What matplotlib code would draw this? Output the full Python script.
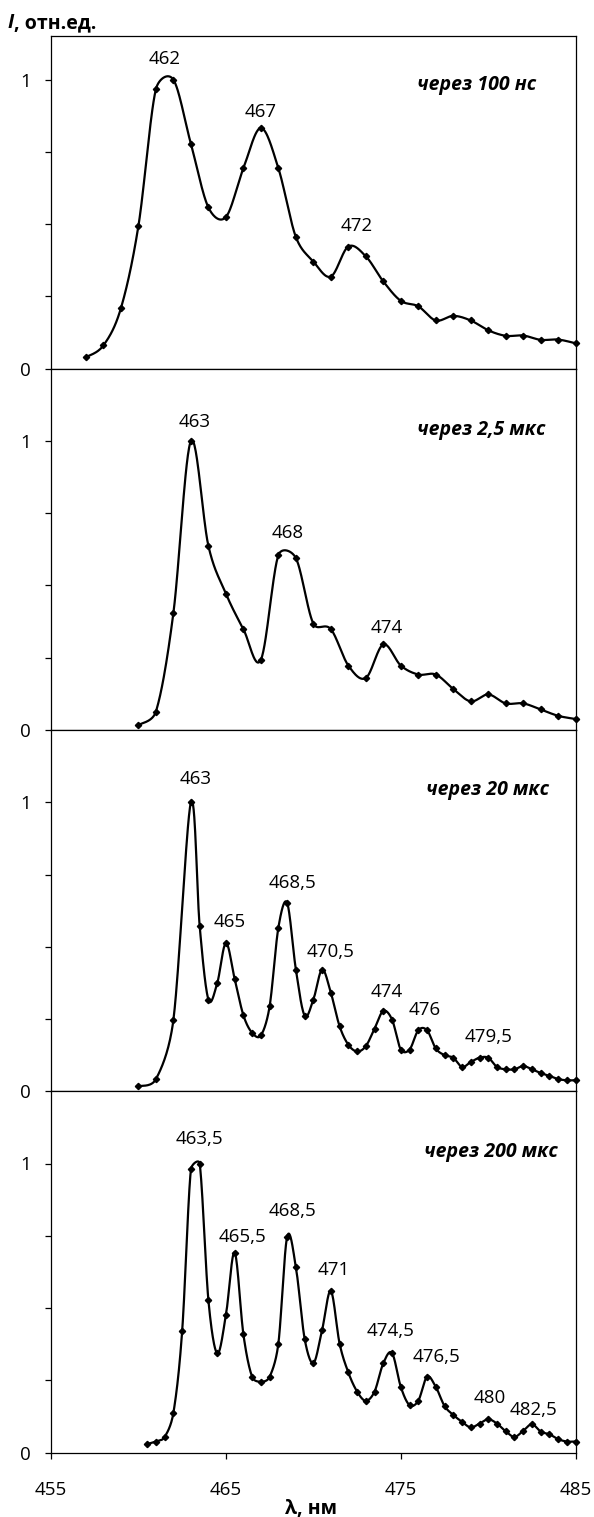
import numpy as np
import matplotlib
matplotlib.use("Agg")
import matplotlib.pyplot as plt

# ---------------- data ----------------
x1 = [457, 458, 459, 460, 461, 462, 463, 464, 465, 466, 467, 468, 469, 470, 471,
      472, 473, 474, 475, 476, 477, 478, 479, 480, 481, 482, 483, 484, 485]
y1 = [0.040, 0.081, 0.210, 0.495, 0.968, 1.000, 0.778, 0.558, 0.525, 0.694, 0.833,
      0.694, 0.456, 0.371, 0.319, 0.423, 0.389, 0.302, 0.235, 0.216, 0.167, 0.183,
      0.167, 0.133, 0.114, 0.115, 0.100, 0.101, 0.088]

x2 = [460, 461, 462, 463, 464, 465, 466, 467, 468, 469, 470, 471, 472, 473, 474,
      475, 476, 477, 478, 479, 480, 481, 482, 483, 484, 485]
y2 = [0.017, 0.064, 0.406, 1.000, 0.637, 0.472, 0.349, 0.243, 0.605, 0.595, 0.368,
      0.349, 0.223, 0.180, 0.296, 0.223, 0.192, 0.192, 0.142, 0.099, 0.123, 0.092,
      0.092, 0.071, 0.049, 0.038]

x3 = [460.0, 461.0, 462.0, 463.0, 463.5, 464.0, 464.5, 465.0, 465.5, 466.0, 466.5,
      467.0, 467.5, 468.0, 468.5, 469.0, 469.5, 470.0, 470.5, 471.0, 471.5, 472.0,
      472.5, 473.0, 473.5, 474.0, 474.5, 475.0, 475.5, 476.0, 476.5, 477.0, 477.5,
      478.0, 478.5, 479.0, 479.5, 480.0, 480.5, 481.0, 481.5, 482.0, 482.5, 483.0,
      483.5, 484.0, 484.5, 485.0]
y3 = [0.017, 0.042, 0.248, 1.000, 0.572, 0.317, 0.373, 0.513, 0.389, 0.263, 0.202,
      0.193, 0.294, 0.566, 0.652, 0.421, 0.262, 0.317, 0.421, 0.341, 0.225, 0.161,
      0.138, 0.156, 0.217, 0.278, 0.248, 0.144, 0.144, 0.211, 0.211, 0.148, 0.125,
      0.116, 0.084, 0.101, 0.116, 0.116, 0.084, 0.076, 0.076, 0.087, 0.076, 0.063,
      0.053, 0.042, 0.038, 0.038]

x4 = [460.5, 461.0, 461.5, 462.0, 462.5, 463.0, 463.5, 464.0, 464.5, 465.0, 465.5,
      466.0, 466.5, 467.0, 467.5, 468.0, 468.5, 469.0, 469.5, 470.0, 470.5, 471.0,
      471.5, 472.0, 472.5, 473.0, 473.5, 474.0, 474.5, 475.0, 475.5, 476.0, 476.5,
      477.0, 477.5, 478.0, 478.5, 479.0, 479.5, 480.0, 480.5, 481.0, 481.5, 482.0,
      482.5, 483.0, 483.5, 484.0, 484.5, 485.0]
y4 = [0.029, 0.038, 0.054, 0.138, 0.421, 0.980, 1.000, 0.527, 0.343, 0.475, 0.692,
      0.409, 0.262, 0.245, 0.262, 0.377, 0.746, 0.642, 0.394, 0.309, 0.424, 0.559,
      0.377, 0.277, 0.211, 0.179, 0.211, 0.309, 0.344, 0.227, 0.164, 0.179, 0.262,
      0.227, 0.161, 0.130, 0.106, 0.087, 0.100, 0.115, 0.100, 0.073, 0.054, 0.075,
      0.098, 0.072, 0.063, 0.046, 0.038, 0.038]

titles = ["через 100 нс", "через 2,5 мкс", "через 20 мкс", "через 200 мкс"]

labels1 = ["462", "467", "472"]
labels2 = ["463", "468", "474"]
labels3 = ["463", "465", "468,5", "470,5", "474", "476", "479,5"]
labels4 = ["463,5", "465,5", "468,5", "471", "474,5", "476,5", "480", "482,5"]

x_ticks = [455, 465, 475, 485]
x_tick_labels = ["455", "465", "475", "485"]
y_ticks = [0, 1]
y_tick_labels = ["0", "1"]
y_minor = [0.25, 0.5, 0.75]

# ---------------- layout ----------------
plt.rcParams["font.family"] = ["Open Sans", "DejaVu Sans"]
W, H = 594, 1517
fig = plt.figure(figsize=(W / 100, H / 100), dpi=100)

unit = 289.0
left_px, right_px = 51.0, 575.7
bottom_px = 1452.5
ymaxes = [1.15, 1.25, 1.25, 1.25]
xscale = (right_px - left_px) / 30.0   # px per nm

# label centre positions (data coords) per panel
lab_pos = [
    [(461.5, 1.073), (467.0, 0.889), (472.46, 0.495)],
    [(463.2, 1.066), (468.56, 0.683), (474.19, 0.354)],
    [(463.26, 1.079), (465.2, 0.586), (468.8, 0.722), (471.0, 0.482),
     (474.2, 0.344), (476.35, 0.280), (480.0, 0.186)],
    [(463.48, 1.085), (465.97, 0.747), (468.82, 0.837), (471.16, 0.630),
     (474.4, 0.422), (477.04, 0.330), (480.07, 0.188), (482.58, 0.148)],
]
title_pos = [(482.73, 0.983), (483.27, 1.037), (483.5, 1.042), (484.0, 1.039)]


def smooth(x, y, n=30):
    """Excel-style smoothed line (Bezier with limited control arms), in pixel space."""
    pts = np.column_stack([np.asarray(x, float) * xscale, np.asarray(y, float) * unit])
    P = np.vstack([pts[0], pts, pts[-1]])
    out = []
    t = np.linspace(0, 1, n)[:, None]
    for i in range(1, len(P) - 2):
        p0, p1, p2, p3 = P[i - 1], P[i], P[i + 1], P[i + 2]
        d12 = np.linalg.norm(p2 - p1)
        d02 = np.linalg.norm(p2 - p0)
        d13 = np.linalg.norm(p3 - p1)
        f0 = 1 / 6.0
        f3 = 1 / 6.0
        if d02 / 6.0 >= d12 / 2.0 and d02 > 0:
            f0 = d12 / d02 / 2.0
        if d13 / 6.0 >= d12 / 2.0 and d13 > 0:
            f3 = d12 / d13 / 2.0
        c1 = p1 + (p2 - p0) * f0
        c2 = p2 - (p3 - p1) * f3
        seg = ((1 - t) ** 3 * p1 + 3 * (1 - t) ** 2 * t * c1
               + 3 * (1 - t) * t ** 2 * c2 + t ** 3 * p2)
        out.append(seg if i == 1 else seg[1:])
    res = np.vstack(out)
    return res[:, 0] / xscale, res[:, 1] / unit


series = [(x1, y1, labels1), (x2, y2, labels2), (x3, y3, labels3), (x4, y4, labels4)]

heights = [ym * unit for ym in ymaxes]
bottoms = [0] * 4
cur = bottom_px
for k in range(3, -1, -1):
    bottoms[k] = cur
    cur = cur - heights[k]

FS = 13.5
for k, (xs, ys, labs) in enumerate(series):
    b = bottoms[k]
    h = heights[k]
    ax = fig.add_axes([left_px / W, (H - b) / H, (right_px - left_px) / W, h / H])
    ax.set_xlim(455, 485)
    ax.set_ylim(0, ymaxes[k])
    sx, sy = smooth(xs, ys)
    ax.plot(sx, sy, color="black", lw=1.6, solid_capstyle="round",
            zorder=3, clip_on=False)
    ax.plot(xs, ys, linestyle="none", marker="D", markersize=3.2, color="black",
            zorder=4, clip_on=False)
    for s in ax.spines.values():
        s.set_linewidth(0.9)
        s.set_color("black")
    ax.set_yticks(y_ticks)
    ax.set_yticklabels(y_tick_labels)
    ax.set_yticks(y_minor, minor=True)
    ax.tick_params(axis="y", which="both", direction="out", length=4.5, width=0.9,
                   pad=10, labelsize=FS)
    if k < 3:
        ax.set_xticks([])
    else:
        ax.set_xticks(x_ticks)
        ax.set_xticklabels(x_tick_labels)
        ax.tick_params(axis="x", direction="out", length=4.5, width=0.9, pad=16,
                       labelsize=FS)
    for lab, (lx, ly) in zip(labs, lab_pos[k]):
        ax.text(lx, ly, lab, ha="center", va="center", fontsize=FS)
    tx, ty = title_pos[k]
    ax.text(tx, ty, titles[k], ha="right", va="center", fontsize=14,
            fontweight="bold", fontstyle="italic")

# axis titles
fig.text(7 / W, (H - 28) / H, "I", fontsize=14, fontweight="bold",
         fontstyle="italic", ha="left", va="baseline")
fig.text(14 / W, (H - 28) / H, ", отн.ед.", fontsize=14, fontweight="bold",
         ha="left", va="baseline")
fig.text(311 / W, (H - 1514) / H, "λ, нм", fontsize=14, fontweight="bold",
         ha="center", va="baseline")

fig.savefig("out.png", dpi=100)
